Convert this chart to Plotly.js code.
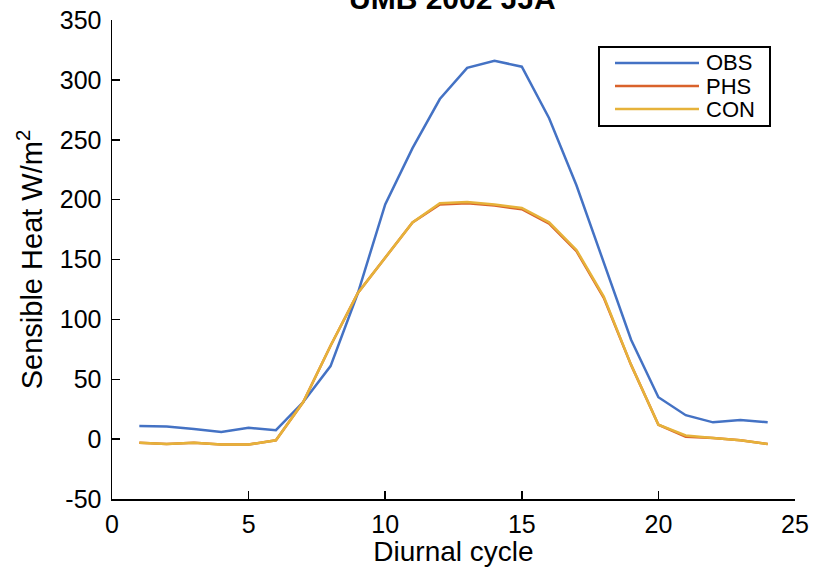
<!DOCTYPE html>
<html>
<head>
<meta charset="utf-8">
<script src="https://cdn.plot.ly/plotly-3.0.1.min.js"></script>
<style>html,body{margin:0;padding:0;background:#fff;}#chart{width:814px;height:567px;}</style>
</head>
<body>
<div id="chart"></div>
<script>
const hours = [1,2,3,4,5,6,7,8,9,10,11,12,13,14,15,16,17,18,19,20,21,22,23,24];
const obs = [11,10.5,8.5,6,9.5,7.5,31,61,122,196,243,284,310,316,311,268,212,148,83,35,20,14,16,14];
const phs = [-3,-4,-3,-4.5,-4.5,-1,31,78,122,152,181,196,197,195,192,180,157,118,62,12,2,1,-1,-4];
const con = [-3,-4,-3,-4.5,-4.5,-1,31,78,122,152,181,197,198,196,193,181,158,119,62,12,3,1,-1,-4];
const seriesNames = ['OBS','PHS','CON'];
const colors = ['#4472c4','#d9622b','#e6b23a'];
const xTicks = [0,5,10,15,20,25];
const yTicks = [-50,0,50,100,150,200,250,300,350];
const yTickText = ['-50','0','50','100','150','200','250','300','350'];
const titleText = 'UMB 2002 JJA';

const traces = [obs, phs, con].map((v, i) => ({
  x: hours, y: v, type: 'scatter', mode: 'lines', name: seriesNames[i],
  line: {color: colors[i], width: 2.5}, showlegend: false
}));

const fam = 'Liberation Sans, Arial, Helvetica, sans-serif';

// custom legend (box, sample lines, labels) in paper coordinates
const plotL = 112, plotT = 20, plotW = 683, plotH = 479;
const px = x => (x - plotL) / plotW;
const py = y => 1 - (y - plotT) / plotH;
const legRows = [63, 86, 109];
const shapes = [{
  type: 'rect', xref: 'paper', yref: 'paper',
  x0: px(599), x1: px(770), y0: py(47), y1: py(126),
  line: {color: '#000', width: 2}, fillcolor: '#fff', layer: 'above'
}];
const annotations = [{
  text: '<b>' + titleText + '</b>', xref: 'paper', yref: 'paper',
  x: px(452), y: py(-1), xanchor: 'center', yanchor: 'middle', showarrow: false,
  font: {size: 30, family: fam, color: '#000'}
}];
seriesNames.forEach((n, i) => {
  shapes.push({type: 'line', xref: 'paper', yref: 'paper', x0: px(615), x1: px(699),
    y0: py(legRows[i]), y1: py(legRows[i]), line: {color: colors[i], width: 2.5}, layer: 'above'});
  annotations.push({text: n, xref: 'paper', yref: 'paper', x: px(704), y: py(legRows[i]),
    xanchor: 'left', yanchor: 'middle', showarrow: false, font: {size: 22, family: fam, color: '#000'}});
});

const layout = {
  width: 814, height: 567,
  margin: {l: plotL, r: 814 - plotL - plotW, t: plotT, b: 567 - plotT - plotH},
  paper_bgcolor: '#fff', plot_bgcolor: '#fff',
  font: {family: fam, color: '#000'},
  showlegend: false,
  xaxis: {
    range: [0, 25], tickvals: xTicks, ticks: 'inside', ticklen: 8, tickwidth: 1.5, tickcolor: '#000',
    showline: true, linecolor: '#000', linewidth: 1.5, showgrid: false, zeroline: false,
    tickfont: {size: 25, family: fam}, ticklabelstandoff: 2,
    title: {text: 'Diurnal cycle', font: {size: 28, family: fam}, standoff: 0}
  },
  yaxis: {
    range: [-50, 350], tickvals: yTicks, ticktext: yTickText, ticks: 'inside', ticklen: 8, tickwidth: 1.5, tickcolor: '#000',
    showline: true, linecolor: '#000', linewidth: 1.5, showgrid: false, zeroline: false,
    tickfont: {size: 25, family: fam}, ticklabelstandoff: 4,
    title: {text: 'Sensible Heat W/m<sup>2</sup>', font: {size: 29, family: fam}, standoff: 8}
  },
  shapes: shapes,
  annotations: annotations
};

Plotly.newPlot('chart', traces, layout, {displayModeBar: false, staticPlot: true});
</script>
</body>
</html>
